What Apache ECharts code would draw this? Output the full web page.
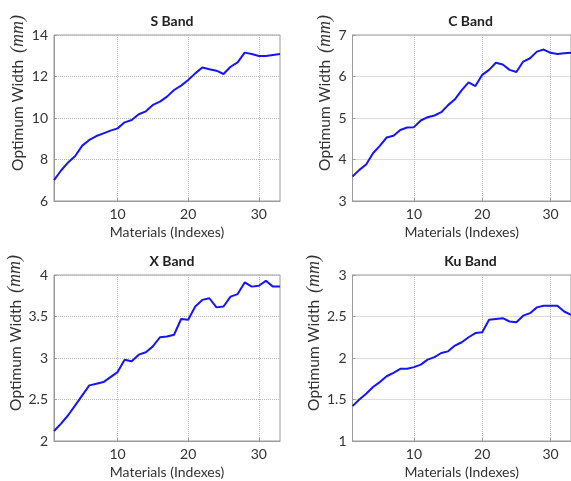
<!DOCTYPE html>
<html>
<head>
<meta charset="utf-8">
<script src="https://cdn.jsdelivr.net/npm/echarts@6/dist/echarts.min.js"></script>
<style>
  html, body { margin: 0; padding: 0; background: #fff; }
  #chart { width: 571px; height: 481px; }
</style>
</head>
<body>
<div id="chart"></div>
<script>
// Material indexes shared by all four bands
const materialIndexes = [1, 2, 3, 4, 5, 6, 7, 8, 9, 10, 11, 12, 13, 14, 15, 16, 17,
  18, 19, 20, 21, 22, 23, 24, 25, 26, 27, 28, 29, 30, 31, 32, 33];

// Optimum width (mm) per band
const sBand = [7.01, 7.47, 7.86, 8.17, 8.67, 8.94, 9.13, 9.26, 9.39, 9.50, 9.79, 9.90,
  10.18, 10.32, 10.63, 10.79, 11.03, 11.35, 11.56, 11.83, 12.15, 12.43, 12.35, 12.28,
  12.12, 12.47, 12.68, 13.15, 13.08, 12.99, 12.99, 13.04, 13.08];
const cBand = [3.59, 3.75, 3.88, 4.15, 4.33, 4.53, 4.57, 4.71, 4.77, 4.78, 4.94, 5.02,
  5.06, 5.14, 5.31, 5.45, 5.67, 5.86, 5.77, 6.04, 6.16, 6.33, 6.29, 6.16, 6.11, 6.36,
  6.44, 6.60, 6.65, 6.57, 6.54, 6.56, 6.57];
const xBand = [2.12, 2.21, 2.31, 2.43, 2.55, 2.67, 2.69, 2.71, 2.77, 2.83, 2.98, 2.96,
  3.04, 3.07, 3.14, 3.25, 3.26, 3.28, 3.47, 3.46, 3.62, 3.70, 3.72, 3.61, 3.62, 3.74,
  3.77, 3.91, 3.86, 3.87, 3.93, 3.86, 3.86];
const kuBand = [1.42, 1.50, 1.57, 1.65, 1.71, 1.78, 1.82, 1.87, 1.87, 1.89, 1.92, 1.98,
  2.01, 2.06, 2.08, 2.15, 2.19, 2.25, 2.30, 2.31, 2.46, 2.47, 2.48, 2.44, 2.43, 2.51,
  2.54, 2.61, 2.63, 2.63, 2.63, 2.56, 2.52];

// Panel titles and axis settings
const bandTitles = ['S Band', 'C Band', 'X Band', 'Ku Band'];
const bandSeries = [sBand, cBand, xBand, kuBand];
const yMins = [6, 3, 2, 1];
const yMaxs = [14, 7, 4, 3];
const yIntervals = [2, 1, 0.5, 0.5];
const xTicks = [10, 20, 30];
const xMin = 1;
const xMax = 33;

const FONT = 'Lato, "Open Sans", sans-serif';
const AXIS_COLOR = '#9a9a9a';
const TEXT_COLOR = '#333';

// Plot-area placement for the 2x2 layout
const panels = [
  { left: 54, top: 35, nameGap: 27 },
  { left: 352.5, top: 35, nameGap: 18 },
  { left: 54, top: 275, nameGap: 28 },
  { left: 352.5, top: 275, nameGap: 24 }
];
const PLOT_W = 226;
const PLOT_H = 166;

const grids = [], xAxes = [], yAxes = [], series = [], titles = [];

panels.forEach((p, i) => {
  grids.push({
    left: p.left, top: p.top, width: PLOT_W, height: PLOT_H,
    show: true, borderColor: AXIS_COLOR, borderWidth: 1,
    backgroundColor: 'transparent', containLabel: false
  });
  titles.push({
    text: bandTitles[i],
    left: p.left + PLOT_W / 2,
    top: p.top - 26,
    textAlign: 'center',
    textStyle: { fontFamily: FONT, fontSize: 14, fontWeight: 'bold', color: '#222' }
  });
  xAxes.push({
    type: 'value', gridIndex: i, min: xMin, max: xMax,
    name: 'Materials (Indexes)', nameLocation: 'middle', nameGap: 24,
    nameTextStyle: { fontFamily: FONT, fontSize: 14, color: TEXT_COLOR },
    axisLine: { show: true, lineStyle: { color: AXIS_COLOR, width: 1 } },
    axisTick: { show: true, inside: true, length: 3, customValues: xTicks,
      lineStyle: { color: AXIS_COLOR } },
    axisLabel: { customValues: xTicks, fontFamily: FONT, fontSize: 14,
      color: TEXT_COLOR, margin: 6 },
    splitLine: { show: true, lineStyle: { color: '#b8b8b8', type: 'dotted', width: 1 } }
  });
  yAxes.push({
    type: 'value', gridIndex: i,
    min: yMins[i], max: yMaxs[i], interval: yIntervals[i],
    name: '{a|Optimum Width}  {b|(mm)}',
    nameLocation: 'middle', nameRotate: 90,
    nameGap: p.nameGap,
    nameTextStyle: {
      padding: [0, 0, 0, 50],
      rich: {
        a: { fontFamily: FONT, fontSize: 15.5, color: TEXT_COLOR },
        b: { fontFamily: '"Liberation Serif", "DejaVu Serif", serif', fontStyle: 'italic',
          fontSize: 18, color: TEXT_COLOR }
      }
    },
    axisLine: { show: true, lineStyle: { color: AXIS_COLOR, width: 1 } },
    axisTick: { show: true, inside: true, length: 3, lineStyle: { color: AXIS_COLOR } },
    axisLabel: { fontFamily: FONT, fontSize: 14, color: TEXT_COLOR, margin: 6 },
    splitLine: { show: true, lineStyle: { color: '#b8b8b8', type: 'dotted', width: 1 } }
  });
  series.push({
    type: 'line', xAxisIndex: i, yAxisIndex: i,
    data: materialIndexes.map((m, k) => [m, bandSeries[i][k]]),
    symbol: 'none', clip: true,
    lineStyle: { color: '#1414ff', width: 2 }
  });
});

const chart = echarts.init(document.getElementById('chart'), null, { renderer: 'canvas' });
chart.setOption({
  animation: false,
  backgroundColor: '#fff',
  title: titles,
  grid: grids,
  xAxis: xAxes,
  yAxis: yAxes,
  series: series
});
</script>
</body>
</html>
